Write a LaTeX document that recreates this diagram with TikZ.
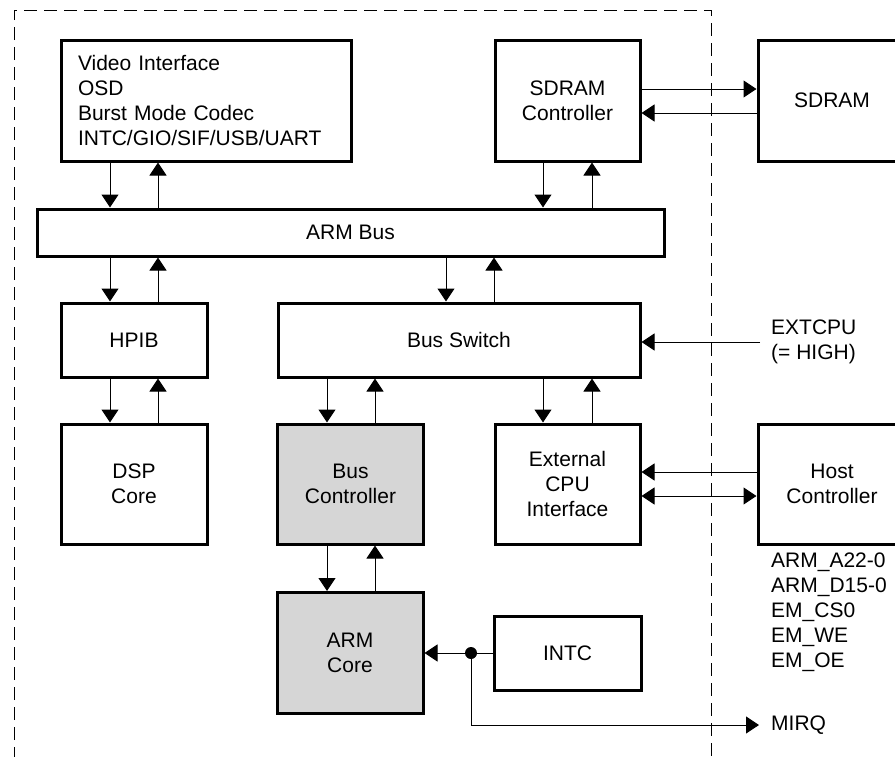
\documentclass[tikz,border=0pt]{standalone}
\usepackage{fontspec}
\setmainfont{Liberation Sans}
\usetikzlibrary{arrows.meta}

\begin{document}
\begin{tikzpicture}[x=1pt,y=-1pt,
    font=\fontsize{21}{25}\selectfont,
    >={Triangle[length=13pt,width=17pt]},
    block/.style={draw=black,line width=3pt,rectangle,align=center,inner sep=0pt},
    core/.style={block,fill=black!16},
    wire/.style={line width=1pt}]
    \useasboundingbox (0,0) rectangle (895,756);
    % chip boundary
    \draw[line width=1pt,dash pattern=on 13pt off 7pt] (14,760) -- (14,10) -- (711,10) -- (711,760);

    \node[block,minimum width=290pt,minimum height=121pt,align=left,text width=256pt,inner xsep=17pt] (video) at (206,100.5)
      {Video Interface\\OSD\\Burst Mode Codec\\INTC/GIO/SIF/USB/UART};
    \node[block,minimum width=145pt,minimum height=121pt] (sdc) at (567.5,100.5) {SDRAM\\Controller};
    \node[block,minimum width=148pt,minimum height=121pt] (sdram) at (832,100.5) {SDRAM};
    \node[block,minimum width=627pt,minimum height=47pt] (bus) at (350.5,232.5) {ARM Bus};
    \node[block,minimum width=146pt,minimum height=74pt] (hpib) at (134,340) {HPIB};
    \node[block,minimum width=362pt,minimum height=74pt] (switch) at (459,340) {Bus Switch};
    \node[block,minimum width=146pt,minimum height=120pt] (dsp) at (134,484) {DSP\\Core};
    \node[core,minimum width=146pt,minimum height=120pt] (busctl) at (350.5,484) {Bus\\Controller};
    \node[block,minimum width=145pt,minimum height=120pt] (extcpu) at (567.5,484) {External\\CPU\\Interface};
    \node[block,minimum width=148pt,minimum height=120pt] (host) at (832,484) {Host\\Controller};
    \node[core,minimum width=146pt,minimum height=121pt] (armcore) at (350,653) {ARM\\Core};
    \node[block,minimum width=147pt,minimum height=74pt] (intc) at (567.5,653) {INTC};
    \node[circle,fill=black,inner sep=0pt,minimum size=12pt] (dot) at (471,653) {};

    \node[anchor=west,align=left,inner xsep=11pt,inner ysep=0pt] (extsel) at (760,342) {EXTCPU\\(= HIGH)};
    \node[anchor=west,align=left,inner xsep=11pt,inner ysep=0pt] (pins) at (760,612.5)
      {ARM\_A22-0\\ARM\_D15-0\\EM\_CS0\\EM\_WE\\EM\_OE};
    \node[anchor=west,inner xsep=12pt] (mirq) at (759,725) {MIRQ};

    % down/up pairs between stacked blocks
    \foreach \p/\q/\xa/\xb in {video/bus/110/158, sdc/bus/543/592, bus/hpib/110/158, bus/switch/446/494,
      hpib/dsp/110/158, switch/busctl/327/375, switch/extcpu/543/592, busctl/armcore/327/375}{
      \draw[wire,->] (\p.south -| \xa,0) -- (\q.north -| \xa,0);
      \draw[wire,->] (\q.north -| \xb,0) -- (\p.south -| \xb,0);
    }

    \draw[wire,->] (sdc.east |- 0,89) -- (sdram.west |- 0,89);
    \draw[wire,->] (sdram.west |- 0,113) -- (sdc.east |- 0,113);
    \draw[wire,->] (extsel.west) -- (extsel.west -| switch.east);
    \draw[wire,->] (host.west |- 0,472) -- (extcpu.east |- 0,472);
    \draw[wire,<->] (extcpu.east |- 0,496) -- (host.west |- 0,496);
    \draw[wire,->] (intc.west) -- (armcore.east);
    \draw[wire,->] (dot.center) |- (mirq.west);
  \end{tikzpicture}
\end{document}
